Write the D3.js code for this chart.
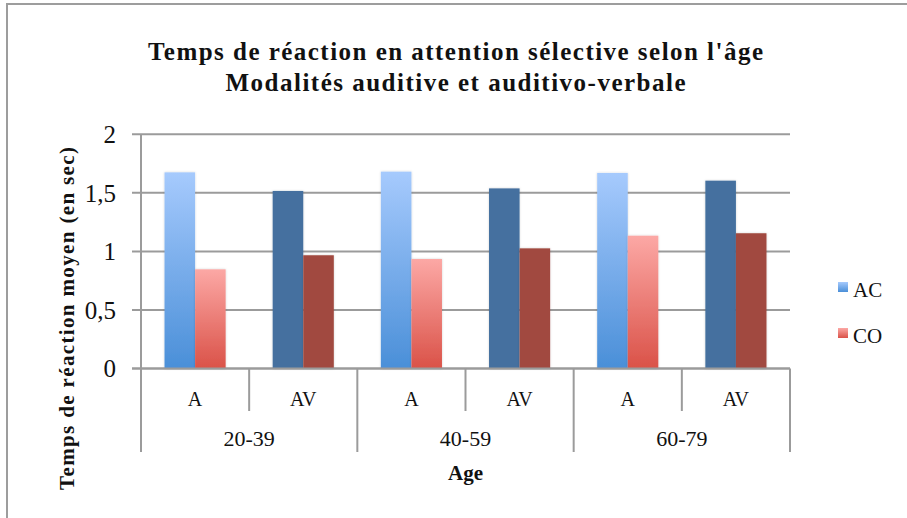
<!DOCTYPE html>
<html><head><meta charset="utf-8">
<script src="https://cdn.jsdelivr.net/npm/d3@7"></script>
<style>html,body{margin:0;padding:0;background:#fff;}svg{display:block;}</style>
</head><body>
<svg id="chart" width="907" height="518"></svg>
<script>
const titleLines = ["Temps de réaction en attention sélective selon l'âge", "Modalités auditive et auditivo-verbale"];
const yTitle = "Temps de réaction moyen (en sec)";
const xTitle = "Age";
const ageGroups = ["20-39", "40-59", "60-79"];
const modalities = ["A", "AV"];
const seriesNames = ["AC", "CO"];
const acValues = [1.675, 1.516, 1.681, 1.538, 1.670, 1.604];
const coValues = [0.847, 0.967, 0.935, 1.026, 1.134, 1.155];
const yTickValues = [0, 0.5, 1, 1.5, 2];
const yTickLabels = ["0", "0,5", "1", "1,5", "2"];

const FONT = "'Liberation Serif', 'Times New Roman', serif";
const GRID = "#9b9b9b";
const svg = d3.select("#chart");

const cats = [];
ageGroups.forEach((g, gi) => modalities.forEach((m, mi) => {
  const idx = gi * modalities.length + mi;
  cats.push({key: g + "|" + m, group: g, mod: m, AC: acValues[idx], CO: coValues[idx]});
}));

const plotL = 141, plotR = 790, plotT = 134.3, plotB = 368.5;
const x = d3.scaleBand().domain(cats.map(d => d.key)).range([plotL, plotR]).padding(0);
const xs = d3.scaleBand().domain(seriesNames).range([0, x.bandwidth()]).paddingInner(0).paddingOuter(0.77);
const y = d3.scaleLinear().domain([0, 2]).range([plotB, plotT]);

const defs = svg.append("defs");
function grad(id, top, bottom) {
  const g = defs.append("linearGradient").attr("id", id).attr("x1", 0).attr("y1", 0).attr("x2", 0).attr("y2", 1);
  g.append("stop").attr("offset", "0%").attr("stop-color", top);
  g.append("stop").attr("offset", "100%").attr("stop-color", bottom);
}
grad("gAC", "#a6cafd", "#4a8fd8");
grad("gCO", "#fca8a5", "#da5248");
const f = defs.append("filter").attr("id", "sh").attr("x", "-20%").attr("y", "-20%").attr("width", "140%").attr("height", "140%");
f.append("feDropShadow").attr("dx", 0).attr("dy", 0).attr("stdDeviation", 1.2).attr("flood-color", "#000").attr("flood-opacity", 0.18);

// chart border
svg.append("path").attr("d", "M7,520 L7,4 L910,4").attr("fill", "none").attr("stroke", "#9d9d9d").attr("stroke-width", 2);

// title
const titleWidths = [615, 460];
svg.append("g").selectAll("text").data(titleLines).join("text")
  .attr("x", 455.5).attr("y", (d, i) => 60 + i * 31).attr("text-anchor", "middle")
  .attr("font-family", FONT).attr("font-weight", "bold").attr("font-size", 25).attr("fill", "#111")
  .attr("textLength", (d, i) => titleWidths[i]).attr("lengthAdjust", "spacing")
  .text(d => d);

// gridlines
svg.append("g").selectAll("line").data(yTickValues).join("line")
  .attr("x1", 132).attr("x2", plotR).attr("y1", d => y(d)).attr("y2", d => y(d))
  .attr("stroke", GRID).attr("stroke-width", 2);

// y axis line
svg.append("line").attr("x1", plotL).attr("x2", plotL).attr("y1", plotT).attr("y2", plotB)
  .attr("stroke", GRID).attr("stroke-width", 2);

// y tick labels
svg.append("g").selectAll("text").data(yTickValues).join("text")
  .attr("x", 116).attr("y", d => y(d)).attr("dy", "0.35em").attr("text-anchor", "end")
  .attr("font-family", FONT).attr("font-size", 25).attr("fill", "#111")
  .text((d, i) => yTickLabels[i]);

// bars
const barG = svg.append("g");
cats.forEach((c) => {
  seriesNames.forEach(s => {
    let fill;
    if (c.mod === "A") fill = s === "AC" ? "url(#gAC)" : "url(#gCO)";
    else fill = s === "AC" ? "#44709f" : "#a1493f";
    barG.append("rect")
      .attr("x", x(c.key) + xs(s)).attr("width", xs.bandwidth())
      .attr("y", y(c[s])).attr("height", y(0) - y(c[s]))
      .attr("fill", fill).attr("filter", "url(#sh)");
  });
});

// x axis baseline
svg.append("line").attr("x1", 132).attr("x2", plotR).attr("y1", plotB).attr("y2", plotB)
  .attr("stroke", GRID).attr("stroke-width", 2);

// category separators
const bounds = cats.map(d => x(d.key)).concat([plotR]);
svg.append("g").selectAll("line").data(bounds).join("line")
  .attr("x1", d => d).attr("x2", d => d).attr("y1", plotB)
  .attr("y2", (d, i) => (i % modalities.length === 0) ? 452 : 411)
  .attr("stroke", GRID).attr("stroke-width", 2);

// modality labels
svg.append("g").selectAll("text").data(cats).join("text")
  .attr("x", d => x(d.key) + x.bandwidth() / 2).attr("y", 406).attr("text-anchor", "middle")
  .attr("font-family", FONT).attr("font-size", 20).attr("fill", "#111").text(d => d.mod);

// group labels
svg.append("g").selectAll("text").data(ageGroups).join("text")
  .attr("x", g => (x(g + "|" + modalities[0]) + x(g + "|" + modalities[modalities.length - 1]) + x.bandwidth()) / 2)
  .attr("y", 446).attr("text-anchor", "middle")
  .attr("font-family", FONT).attr("font-size", 22).attr("fill", "#111").text(d => d);

// x title
svg.append("text").attr("x", (plotL + plotR) / 2).attr("y", 480).attr("text-anchor", "middle")
  .attr("font-family", FONT).attr("font-weight", "bold").attr("font-size", 21).attr("fill", "#111").text(xTitle);

// y title
svg.append("text").attr("transform", "translate(74,318.5) rotate(-90)").attr("text-anchor", "middle")
  .attr("font-family", FONT).attr("font-weight", "bold").attr("font-size", 21).attr("fill", "#111")
  .attr("textLength", 343).attr("lengthAdjust", "spacing").text(yTitle);

// legend
const leg = svg.append("g");
seriesNames.forEach((s, i) => {
  const ly = 282 + i * 46;
  leg.append("rect").attr("x", 838).attr("y", ly).attr("width", 10).attr("height", 10)
    .attr("fill", s === "AC" ? "url(#gAC)" : "url(#gCO)");
  leg.append("text").attr("x", 853).attr("y", ly + 15).attr("font-family", FONT).attr("font-size", 21)
    .attr("fill", "#111").text(s);
});
</script>
</body></html>
